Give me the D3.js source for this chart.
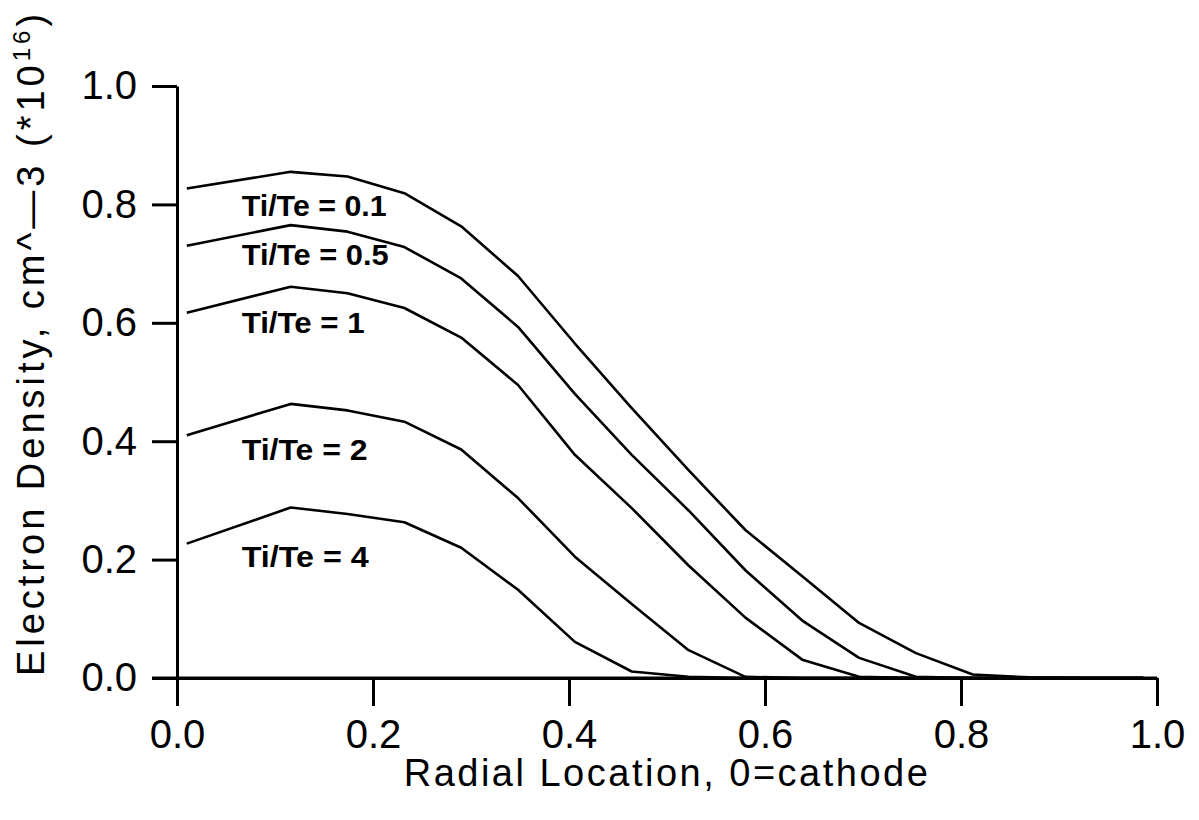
<!DOCTYPE html>
<html lang="en">
<head>
<meta charset="utf-8">
<title>Electron density vs radial location</title>
<script src="https://cdn.jsdelivr.net/npm/d3@7/dist/d3.min.js"></script>
<style>
  body { margin: 0; background: #fff; }
  svg { display: block; }
  text { font-family: "Liberation Sans", Arial, sans-serif; fill: #000; }
</style>
</head>
<body>
<svg width="1199" height="820"></svg>
<script>
// radial positions of the computed points
var radial = [0.01, 0.116, 0.174, 0.232, 0.29, 0.348, 0.406, 0.464, 0.522, 0.58, 0.638, 0.696, 0.754, 0.812, 0.87, 0.928, 0.986];

// electron density (x 1e16 cm^-3) for each Ti/Te ratio
var dens01 = [0.827, 0.855, 0.847, 0.819, 0.763, 0.679, 0.565, 0.456, 0.351, 0.250, 0.172, 0.093, 0.042, 0.006, 0.001, 0, 0];
var dens05 = [0.730, 0.765, 0.754, 0.728, 0.675, 0.593, 0.480, 0.377, 0.283, 0.182, 0.097, 0.034, 0.002, 0, 0, 0, 0];
var dens1  = [0.617, 0.661, 0.650, 0.625, 0.575, 0.495, 0.377, 0.287, 0.190, 0.102, 0.031, 0.002, 0, 0, 0, 0, 0];
var dens2  = [0.410, 0.463, 0.452, 0.433, 0.386, 0.304, 0.205, 0.125, 0.047, 0.002, 0, 0, 0, 0, 0, 0, 0];
var dens4  = [0.227, 0.288, 0.277, 0.263, 0.220, 0.149, 0.061, 0.011, 0.002, 0, 0, 0, 0, 0, 0, 0, 0];

var curveLabels = ["Ti/Te = 0.1", "Ti/Te = 0.5", "Ti/Te = 1", "Ti/Te = 2", "Ti/Te = 4"];
// value at which each label sits (y, in data units) and the label x start
var labelY = [0.780, 0.697, 0.582, 0.368, 0.188];
var labelX = 0.066;

var xTicks = [0, 0.2, 0.4, 0.6, 0.8, 1.0];
var yTicks = [0, 0.2, 0.4, 0.6, 0.8, 1.0];

var series = [dens01, dens05, dens1, dens2, dens4];

var svg = d3.select("svg");

var x = d3.scaleLinear().domain([0, 1]).range([177, 1157]);
var y = d3.scaleLinear().domain([0, 1]).range([678, 86]);

// axes
var axeX = d3.axisBottom(x)
  .tickValues(xTicks)
  .tickFormat(d3.format(".1f"))
  .tickSize(28)
  .tickSizeOuter(0)
  .tickPadding(14);

var axeY = d3.axisLeft(y)
  .tickValues(yTicks)
  .tickFormat(d3.format(".1f"))
  .tickSize(25)
  .tickSizeOuter(0)
  .tickPadding(15);

var gx = svg.append("g")
  .attr("transform", "translate(0," + y(0) + ")")
  .call(axeX);

var gy = svg.append("g")
  .attr("transform", "translate(" + x(0) + ",0)")
  .call(axeY);

[gx, gy].forEach(function (g) {
  g.select(".domain").attr("stroke", "#000").attr("stroke-width", 3);
  g.selectAll(".tick line").attr("stroke", "#000").attr("stroke-width", 3);
  g.selectAll(".tick text")
    .style("font-family", "'Liberation Sans', Arial, sans-serif")
    .style("font-size", "40px")
    .attr("fill", "#000");
});

// extend the x axis line to the left under the 0.0 y tick
svg.append("line")
  .attr("x1", x(0) - 25).attr("x2", x(1))
  .attr("y1", y(0)).attr("y2", y(0))
  .attr("stroke", "#000").attr("stroke-width", 3);

// curves
var ligne = d3.line()
  .x(function (d, i) { return x(radial[i]); })
  .y(function (d) { return y(d); });

svg.selectAll("path.courbe")
  .data(series)
  .enter()
  .append("path")
    .classed("courbe", true)
    .attr("d", ligne)
    .attr("fill", "none")
    .attr("stroke", "#000")
    .attr("stroke-width", 2.6)
    .attr("stroke-linejoin", "round");

// curve labels
var labelWidths = [145, 147, 123, 126, 127];
svg.selectAll("text.etiquette")
  .data(curveLabels)
  .enter()
  .append("text")
    .classed("etiquette", true)
    .attr("x", x(labelX))
    .attr("y", function (d, i) { return y(labelY[i]); })
    .attr("textLength", function (d, i) { return labelWidths[i]; })
    .attr("lengthAdjust", "spacingAndGlyphs")
    .style("font-size", "30px")
    .style("font-weight", "bold")
    .text(function (d) { return d; });

// axis titles
svg.append("text")
  .attr("x", (x(0) + x(1)) / 2)
  .attr("y", 786)
  .attr("text-anchor", "middle")
  .style("font-size", "38px")
  .style("letter-spacing", "2.5px")
  .text("Radial Location, 0=cathode");

var titreY = svg.append("text")
  .attr("transform", "translate(44,343) rotate(-90)")
  .attr("text-anchor", "middle")
  .style("font-size", "38px")
  .style("letter-spacing", "4px");
titreY.append("tspan").text("Electron Density, cm^\u20143 (*10");
titreY.append("tspan").attr("dy", -14).style("font-size", "24px").text("16");
titreY.append("tspan").attr("dy", 14).text(")");
</script>
</body>
</html>
